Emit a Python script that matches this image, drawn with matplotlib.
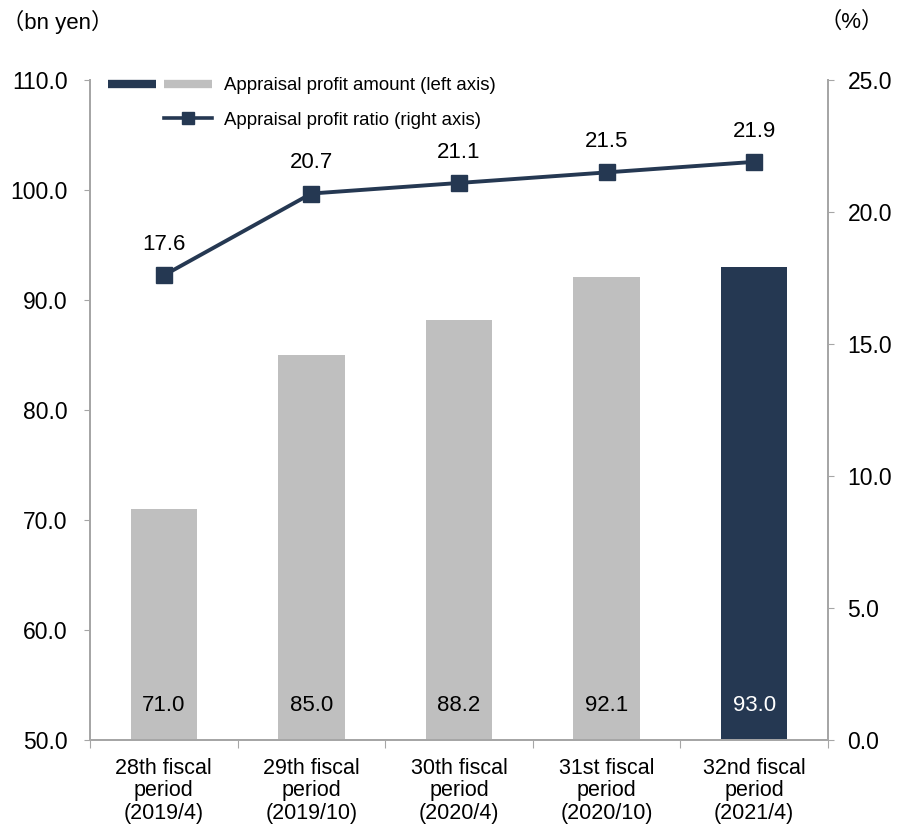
import matplotlib
matplotlib.use("Agg")
import matplotlib.pyplot as plt
from matplotlib.lines import Line2D
from matplotlib.legend_handler import HandlerTuple

plt.rcParams['font.family'] = ['Liberation Sans', 'Noto Sans CJK JP', 'DejaVu Sans']

categories = ["28th fiscal\nperiod\n(2019/4)", "29th fiscal\nperiod\n(2019/10)",
              "30th fiscal\nperiod\n(2020/4)", "31st fiscal\nperiod\n(2020/10)",
              "32nd fiscal\nperiod\n(2021/4)"]
amount = [71.0, 85.0, 88.2, 92.1, 93.0]
ratio = [17.6, 20.7, 21.1, 21.5, 21.9]
left_ticks = [50, 60, 70, 80, 90, 100, 110]
right_ticks = [0, 5, 10, 15, 20, 25]

navy = "#253852"
gray = "#bfbfbf"
spine_c = "#a6a6a6"
bar_colors = [gray, gray, gray, gray, navy]
label_colors = ["#000000"] * 4 + ["#ffffff"]

fig = plt.figure(figsize=(8.99, 8.26), dpi=100)
ax = fig.add_axes([90 / 899, 1 - 740 / 826, (828 - 90) / 899, 660 / 826])
x = list(range(len(categories)))
ax.bar(x, amount, width=0.45, color=bar_colors, zorder=2)
ax.set_xlim(-0.5, len(categories) - 0.5)
ax.set_ylim(50, 110)
ax.set_yticks(left_ticks)
ax.set_yticklabels([f"{v:.1f}" for v in left_ticks])
for i, v in enumerate(amount):
    ax.text(i, 53.1, f"{v:.1f}", ha='center', va='center', fontsize=16,
            color=label_colors[i], zorder=3)

# x axis: boundary ticks (major), labels at centers (minor)
ax.set_xticks([i - 0.5 for i in range(len(categories) + 1)])
ax.set_xticklabels([])
ax.set_xticks(x, minor=True)
ax.set_xticklabels(categories, minor=True, fontsize=15.5, linespacing=1.08)
ax.tick_params(axis='x', which='major', direction='out', length=6, color=spine_c)
ax.tick_params(axis='x', which='minor', length=0, pad=13)
ax.tick_params(axis='y', direction='out', length=4, color=spine_c, pad=12, labelsize=16.5)

ax.spines['top'].set_visible(False)
for s in ['left', 'right', 'bottom']:
    ax.spines[s].set_color(spine_c)
    ax.spines[s].set_linewidth(1.3)

ax2 = ax.twinx()
ax2.plot(x, ratio, color=navy, lw=2.8, marker='s', markersize=12, zorder=4)
ax2.set_ylim(0, 25)
ax2.set_yticks(right_ticks)
ax2.set_yticklabels([f"{v:.1f}" for v in right_ticks])
ax2.tick_params(axis='y', direction='out', length=4, color=spine_c, pad=10, labelsize=16.5)
ax2.spines['top'].set_visible(False)
for s in ['left', 'right', 'bottom']:
    ax2.spines[s].set_color(spine_c)
    ax2.spines[s].set_linewidth(1.3)
for i, v in enumerate(ratio):
    ax2.annotate(f"{v:.1f}", (i, v), xytext=(0, 22), textcoords='offset points',
                 ha='center', va='center', fontsize=16)

h1 = (Line2D([], [], color=navy, lw=6, solid_capstyle='butt'),
      Line2D([], [], color=gray, lw=6, solid_capstyle='butt'))
h2 = (Line2D([], [], color='none', lw=0),
      Line2D([], [], color=navy, lw=2.6, marker='s', markersize=9))
ax2.legend([h1, h2], ["Appraisal profit amount (left axis)", "Appraisal profit ratio (right axis)"],
           handler_map={tuple: HandlerTuple(ndivide=None, pad=0.4)},
           handlelength=5.6, handletextpad=0.65, loc='upper left',
           bbox_to_anchor=(0.0244, 1.004), frameon=False, fontsize=13.4,
           labelspacing=0.92, borderpad=0, borderaxespad=0)

fig.text(58 / 899, 1 - 22 / 826, "（bn yen）", ha='center', va='center', fontsize=16)
fig.text(852 / 899, 1 - 22 / 826, "（%）", ha='center', va='center', fontsize=16)

fig.savefig("out.png", dpi=100)
